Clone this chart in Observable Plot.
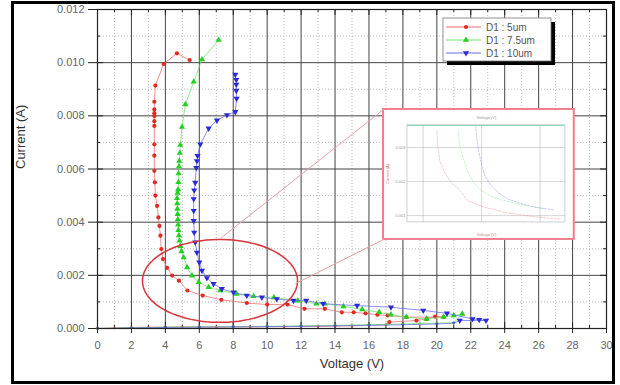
<!DOCTYPE html>
<html><head><meta charset="utf-8">
<script src="https://cdn.jsdelivr.net/npm/d3@7"></script>
<script src="https://cdn.jsdelivr.net/npm/@observablehq/plot@0.6"></script>
<style>
body{margin:0;background:#fff;}
#wrap{position:relative;width:620px;height:385px;overflow:hidden;}
#border{position:absolute;left:11px;top:1px;width:604px;height:383px;border:3px solid #000;box-sizing:border-box;pointer-events:none;z-index:2;}
svg g[aria-label^="x-axis"] text, svg g[aria-label^="y-axis"] text {fill:#666;}
</style></head><body>
<div id="wrap"><div id="border"></div></div>
<script>
// ---- data: [voltage (V), current (A)] in sweep order ----
const d1_5um = [[0,0],[1,0.00002],[2,0.00004],[3,0.00005],[4,0.00005],[5,0.00006],[6,0.00006],[7,0.00005],[8,0.00006],[9,0.00006],[10,0.00007],[11,0.00007],[12,0.00008],[13,0.00008],[14,0.00009],[15,0.0001],[16,0.00012],[17,0.00014],
 [17.2,0.00024],[18.8,0.0003],[19.4,0.00036],[19.9,0.00045],[20.4,0.00043],[18.2,0.00043],[17.1,0.00049],[16.5,0.00052],[15.8,0.00057],[15.1,0.00061],[14.4,0.00061],[13.4,0.00074],[12.2,0.00074],[11.2,0.0009],[10.0,0.0009],[8.8,0.00096],[7.3,0.00108],[6.2,0.00124],[5.3,0.00143],[4.8,0.0018],[4.4,0.00199],[4.1,0.00228],[3.86,0.00261],[3.76,0.00299],[3.71,0.00349],[3.65,0.00386],[3.59,0.00418],[3.51,0.00461],[3.41,0.005],[3.38,0.0055],[3.35,0.00593],[3.35,0.0065],[3.35,0.00693],[3.35,0.00762],[3.35,0.0078],[3.35,0.00799],[3.35,0.0081],[3.35,0.00824],[3.35,0.00853],[3.41,0.00914],[3.9,0.00995],[4.68,0.01035],[5.43,0.0101]];
const d1_7_5um = [[0,0],[2,0.00003],[4,0.00005],[6,0.00006],[8,0.00007],[10,0.00008],[12,0.0001],[14,0.00012],[15,0.00013],[16,0.00014],[17,0.00015],[18,0.00017],[19,0.00019],[20,0.0002],[21,0.00022],
 [21.5,0.00055],[21.0,0.00049],[20.4,0.00043],[19.4,0.00036],[18.2,0.00043],[17.3,0.00052],[16.6,0.00061],[15.6,0.00072],[14.5,0.00083],[13.4,0.00093],[12.9,0.00093],[11.8,0.00105],[10.4,0.00117],[9.2,0.00121],[8.2,0.0013],[7.24,0.00143],[6.55,0.00155],[5.96,0.00174],[5.57,0.00199],[5.28,0.0023],[5.08,0.00267],[4.95,0.0029],[4.88,0.0031],[4.83,0.0033],[4.8,0.0035],[4.77,0.0037],[4.75,0.0039],[4.73,0.0041],[4.72,0.0043],[4.71,0.0045],[4.7,0.0047],[4.69,0.0049],[4.72,0.0051],[4.75,0.00523],[4.77,0.0055],[4.78,0.00583],[4.8,0.0061],[4.82,0.0063],[4.85,0.0066],[4.88,0.0069],[4.98,0.00758],[5.18,0.00843],[5.67,0.00928],[6.16,0.01012],[7.14,0.01085]];
const d1_10um = [[0,0],[2,0.00002],[4,0.00004],[6,0.00005],[8,0.00006],[10,0.00007],[12,0.00008],[14,0.0001],[16,0.00012],[18,0.00014],[20,0.00017],[21,0.0002],
 [21.35,0.0003],[22.9,0.0003],[22.5,0.00033],[22.1,0.00036],[20.6,0.00057],[19.2,0.00068],[17.3,0.0008],[15.3,0.00086],[13.3,0.00093],[12.3,0.00105],[11.55,0.00105],[10.57,0.00111],[9.69,0.00117],[8.8,0.00124],[8.02,0.00136],[7.33,0.00149],[6.84,0.00168],[6.45,0.0019],[6.16,0.00218],[6.0,0.00249],[5.86,0.00286],[5.76,0.00324],[5.7,0.00361],[5.67,0.00405],[5.67,0.00443],[5.67,0.00487],[5.7,0.0052],[5.76,0.00549],[5.82,0.00605],[5.86,0.0063],[5.9,0.0065],[6.06,0.00693],[6.55,0.00753],[7.04,0.00783],[7.63,0.00803],[8.12,0.00815],[8.2,0.00865],[8.18,0.00895],[8.18,0.00918],[8.18,0.00936],[8.12,0.00955]];
const seriesNames = ["D1 : 5um", "D1 : 7.5um", "D1 : 10um"];
const xTicks = [0,2,4,6,8,10,12,14,16,18,20,22,24,26,28,30];
const xMinor = [1,3,5,7,9,11,13,15,17,19,21,23,25,27,29];
const yTicks = [0,0.002,0.004,0.006,0.008,0.010,0.012];
const yMinor = [0.001,0.003,0.005,0.007,0.009,0.011];
const insetXTicks = [3,6,9];
const insetYTicks = [0.001,0.002,0.003];

// ---- styling / annotation layout ----
const triangleDown = {draw(ctx, size){const y=-Math.sqrt(size/(Math.sqrt(3)*3));ctx.moveTo(0,-y*2);ctx.lineTo(-Math.sqrt(3)*y,y);ctx.lineTo(Math.sqrt(3)*y,y);ctx.closePath();}};
const styles = [
  {data:d1_5um, dot:"#e02a22", line:"#f26a66", symbol:"circle", r:2.1},
  {data:d1_7_5um, dot:"#22d020", line:"#6ee46a", symbol:"triangle", r:2.3},
  {data:d1_10um, dot:"#2a2ad8", line:"#6a6ae8", symbol:triangleDown, r:2.3}
];
const offState = d => d[1] < 0.00023;  // low-current branch drawn with small markers
const box = {x1:16.86, x2:28.1, y1:0.00335, y2:0.00824};
const inner = {x1:18.27, x2:27.58, y1:0.00399, y2:0.00764};
const zoomWin = {v1:2.2, v2:10.3, i1:0.0008, i2:0.00365};
const toIX = v => inner.x1 + (v - zoomWin.v1)/(zoomWin.v2 - zoomWin.v1)*(inner.x2 - inner.x1);
const toIY = i => inner.y1 + (i - zoomWin.i1)/(zoomWin.i2 - zoomWin.i1)*(inner.y2 - inner.y1);
const inWin = d => d[0]>=zoomWin.v1 && d[0]<=zoomWin.v2 && d[1]>=zoomWin.i1 && d[1]<=zoomWin.i2;
const ell = {cx:7.22, cy:0.00179, rx:4.57, ry:0.00156};
const ellPts = d3.range(0, 361, 4).map(a => [ell.cx + ell.rx*Math.cos(a*Math.PI/180), ell.cy + ell.ry*Math.sin(a*Math.PI/180)]);
const connectors = [
  {x1:7.25, y1:0.00339, x2:box.x1, y2:box.y2},
  {x1:11.67, y1:0.00169, x2:box.x1, y2:box.y1}
];

const marks = [
  Plot.ruleX(xMinor, {stroke:"#bbb", strokeDasharray:"1,2", strokeWidth:1}),
  Plot.ruleY(yMinor, {stroke:"#bbb", strokeDasharray:"1,2", strokeWidth:1}),
  Plot.ruleX(xTicks, {stroke:"#444", strokeWidth:1}),
  Plot.ruleY(yTicks, {stroke:"#444", strokeWidth:1}),
  Plot.tickX(xTicks, {x:d=>d, insetTop:313, stroke:"#222"}),
  Plot.tickX(xMinor, {x:d=>d, insetTop:316, stroke:"#222"}),
  Plot.tickX(xTicks, {x:d=>d, insetBottom:313, stroke:"#222"}),
  Plot.tickX(xMinor, {x:d=>d, insetBottom:316, stroke:"#222"}),
  Plot.tickY(yTicks, {y:d=>d, insetRight:503, stroke:"#222"}),
  Plot.tickY(yMinor, {y:d=>d, insetRight:506, stroke:"#222"}),
  Plot.tickY(yTicks, {y:d=>d, insetLeft:503, stroke:"#222"}),
  Plot.tickY(yMinor, {y:d=>d, insetLeft:506, stroke:"#222"}),
  // inset (zoom of the circled region)
  Plot.rect([box], {x1:"x1", x2:"x2", y1:"y1", y2:"y2", fill:"white", stroke:"#ee7d8e", strokeWidth:2}),
  Plot.ruleX(insetXTicks, {x:v=>toIX(v), y1:()=>inner.y1, y2:()=>inner.y2, stroke:"#999", strokeOpacity:0.5, strokeWidth:0.8}),
  Plot.ruleY(insetYTicks, {y:i=>toIY(i), x1:()=>inner.x1, x2:()=>inner.x2, stroke:"#999", strokeOpacity:0.5, strokeWidth:0.8}),
  Plot.rect([inner], {x1:"x1", x2:"x2", y1:"y1", y2:"y2", stroke:"#888", strokeOpacity:0.5, strokeWidth:0.8, fill:"none"}),
  Plot.ruleY([inner.y2], {x1:()=>inner.x1, x2:()=>inner.x2, stroke:"#8fd8b8", strokeWidth:1.2}),
  Plot.text(insetYTicks, {x:()=>inner.x1, y:i=>toIY(i), text:d=>d.toFixed(3), dx:-2, textAnchor:"end", fontSize:4, fill:"#999"}),
  Plot.text(["Voltage (V)"], {x:()=>(inner.x1+inner.x2)/2, y:()=>box.y1, dy:-5, fontSize:4, fill:"#c88"}),
  Plot.text(["Voltage (V)"], {x:()=>(inner.x1+inner.x2)/2, y:()=>inner.y2, dy:-8, fontSize:4, fill:"#999"}),
  Plot.text(["Current (A)"], {x:()=>box.x1, y:()=>(inner.y1+inner.y2)/2, dx:4, rotate:-90, fontSize:4, fill:"#d66"}),
  ...styles.map(s => Plot.line(s.data.filter(inWin), {x:d=>toIX(d[0]), y:d=>toIY(d[1]), stroke:s.line, strokeOpacity:0.45, strokeWidth:0.8, strokeDasharray:"2,1.5"})),
  // main series
  ...styles.flatMap(s => [
    Plot.line(s.data, {x:d=>d[0], y:d=>d[1], stroke:s.line, strokeWidth:0.9, strokeOpacity:0.85}),
    Plot.dot(s.data.filter(d => !offState(d)), {x:d=>d[0], y:d=>d[1], fill:s.dot, r:s.r, symbol:s.symbol, stroke:"none"}),
    Plot.dot(s.data.filter(offState), {x:d=>d[0], y:d=>d[1], fill:s.dot, fillOpacity:0.6, r:1.4, symbol:s.symbol, stroke:"none"})
  ]),
  Plot.line(ellPts, {x:d=>d[0], y:d=>d[1], stroke:"#d8343a", strokeWidth:1.5}),
  Plot.link(connectors, {x1:"x1", y1:"y1", x2:"x2", y2:"y2", stroke:"#e8a0a4", strokeWidth:1}),
  Plot.frame({stroke:"#222", strokeWidth:1.2})
];

const chart = Plot.plot({
  width:620, height:385,
  marginLeft:97, marginRight:14, marginTop:9, marginBottom:57,
  style:{fontFamily:"'Liberation Sans', Arial, sans-serif", fontSize:"11px", background:"white", color:"#222"},
  x:{domain:[0,30], ticks:xTicks, tickSize:5, tickPadding:8, label:null, tickFormat:d=>String(d)},
  y:{domain:[0,0.012], ticks:yTicks, tickSize:9, tickPadding:4, label:null, tickFormat:d3.format(".3f")},
  marks: [
    ...marks,
    Plot.text(["Voltage (V)"], {frameAnchor:"bottom", dy:39, fontSize:13, fill:"#333"}),
    Plot.text(["Current (A)"], {frameAnchor:"left", dx:-77, rotate:-90, fontSize:13, fill:"#333"})
  ]
});
document.getElementById("wrap").insertBefore(chart, document.getElementById("border"));

// legend
const svg = d3.select(chart);
const lg = svg.append("g").attr("font-family","'Liberation Sans', Arial, sans-serif").attr("font-size",10).attr("text-anchor","start");
lg.append("rect").attr("x",447).attr("y",22).attr("width",108).attr("height",43).attr("fill","#000");
lg.append("rect").attr("x",443).attr("y",18).attr("width",108).attr("height",43).attr("fill","#fff").attr("stroke","#777").attr("stroke-width",0.8);
const legSyms = [d3.symbolCircle, d3.symbolTriangle, triangleDown];
seriesNames.forEach((name, k) => {
  const y = 27 + k*13;
  lg.append("line").attr("x1",446).attr("x2",481).attr("y1",y).attr("y2",y).attr("stroke",styles[k].line).attr("stroke-width",1);
  lg.append("path").attr("d", d3.symbol(legSyms[k], Math.PI*styles[k].r*styles[k].r)()).attr("transform",`translate(466,${y})`).attr("fill",styles[k].dot);
  lg.append("text").attr("x",486).attr("y",y).attr("dy","0.35em").attr("fill","#555").attr("text-anchor","start").text(name);
});
</script>
</body></html>
